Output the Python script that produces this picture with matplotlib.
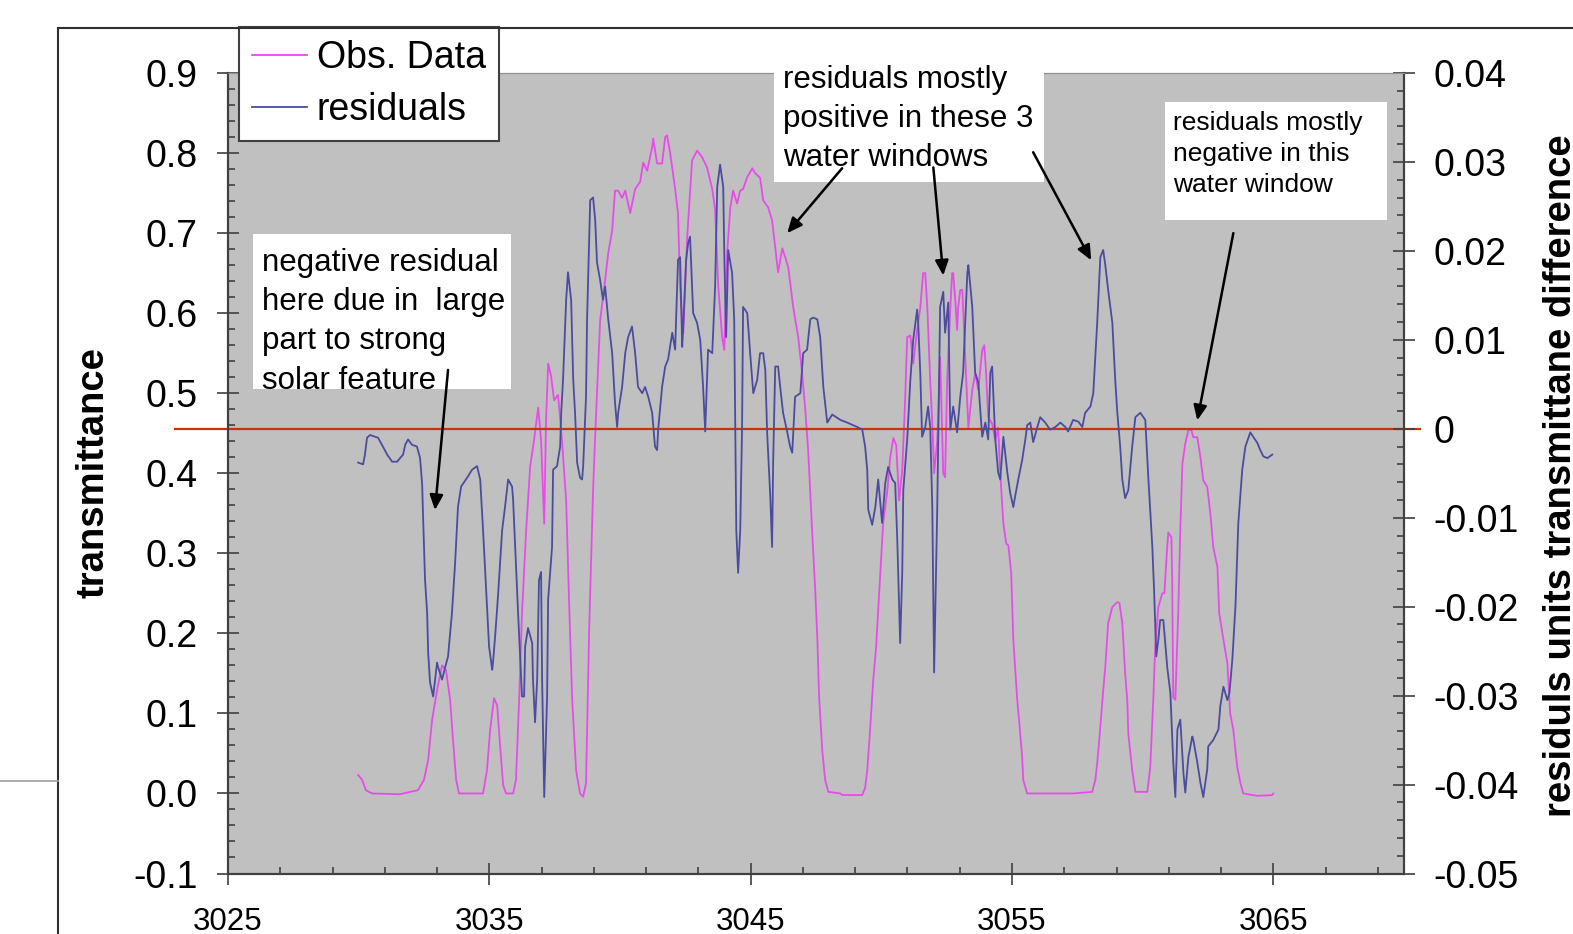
import matplotlib
matplotlib.use("Agg")
from matplotlib import pyplot as plt
from matplotlib.lines import Line2D
from matplotlib.patches import Rectangle
from matplotlib.ticker import FixedLocator, MultipleLocator, FuncFormatter
import numpy as np

plt.rcParams['font.family'] = ['Liberation Sans', 'DejaVu Sans']
plt.rcParams['axes.unicode_minus'] = False

# observed transmittance (left axis)
obs_x = [3029.98, 3030.13, 3030.28, 3030.51, 3031.58, 3031.97, 3032.27, 3032.50, 3032.66, 3032.81,
         3033.00, 3033.19, 3033.34, 3033.50, 3033.61, 3033.73, 3033.84, 3034.76, 3034.91, 3035.03,
         3035.18, 3035.30, 3035.41, 3035.53, 3035.64, 3035.91, 3036.02, 3036.14, 3036.25, 3036.41,
         3036.56, 3036.71, 3036.87, 3036.98, 3037.10, 3037.17, 3037.25, 3037.36, 3037.48, 3037.63,
         3037.78, 3037.94, 3038.05, 3038.17, 3038.32, 3038.47, 3038.59, 3038.70, 3038.74, 3038.82,
         3038.89, 3038.97, 3039.05, 3039.24, 3039.43, 3039.55, 3039.70, 3039.81, 3039.93, 3040.08,
         3040.20, 3040.39, 3040.58, 3040.77, 3040.89, 3041.04, 3041.23, 3041.27, 3041.42, 3041.61,
         3041.73, 3041.80, 3041.92, 3042.11, 3042.22, 3042.30, 3042.38, 3042.42, 3042.57, 3042.76,
         3042.95, 3043.14, 3043.33, 3043.53, 3043.64, 3043.76, 3043.91, 3043.99, 3044.10, 3044.22,
         3044.33, 3044.48, 3044.60, 3044.71, 3044.87, 3045.06, 3045.17, 3045.36, 3045.48, 3045.67,
         3045.82, 3045.94, 3046.05, 3046.21, 3046.32, 3046.44, 3046.63, 3046.82, 3046.97, 3047.09,
         3047.20, 3047.35, 3047.47, 3047.55, 3047.62, 3047.74, 3047.85, 3047.97, 3048.43, 3048.50,
         3049.27, 3049.38, 3049.46, 3049.57, 3049.69, 3049.80, 3049.88, 3049.96, 3050.07, 3050.23,
         3050.34, 3050.46, 3050.57, 3050.68, 3050.80, 3050.91, 3050.99, 3051.11, 3051.22, 3051.37,
         3051.49, 3051.60, 3051.68, 3051.76, 3051.87, 3051.95, 3052.02, 3052.14, 3052.25, 3052.37,
         3052.44, 3052.52, 3052.64, 3052.71, 3052.75, 3052.83, 3052.90, 3052.94, 3053.02, 3053.10,
         3053.21, 3053.33, 3053.48, 3053.59, 3053.71, 3053.86, 3053.94, 3054.01, 3054.09, 3054.24,
         3054.36, 3054.47, 3054.55, 3054.67, 3054.78, 3054.86, 3054.97, 3055.05, 3055.20, 3055.28,
         3055.39, 3055.43, 3055.58, 3056.08, 3056.85, 3057.34, 3058.07, 3058.19, 3058.26, 3058.34,
         3058.42, 3058.49, 3058.57, 3058.68, 3058.84, 3059.03, 3059.11, 3059.22, 3059.33, 3059.41,
         3059.45, 3059.60, 3059.72, 3060.18, 3060.29, 3060.41, 3060.48, 3060.60, 3060.75, 3060.83,
         3060.94, 3060.98, 3061.10, 3061.13, 3061.17, 3061.25, 3061.36, 3061.44, 3061.52, 3061.63,
         3061.75, 3061.86, 3061.94, 3062.09, 3062.21, 3062.32, 3062.47, 3062.59, 3062.70, 3062.86,
         3062.93, 3063.09, 3063.24, 3063.35, 3063.47, 3063.62, 3063.74, 3063.85, 3064.39, 3064.96,
         3065.00]
obs_y = [0.023, 0.017, 0.004, 0.000, -0.001, 0.002, 0.004, 0.017, 0.042, 0.092,
         0.129, 0.160, 0.154, 0.117, 0.067, 0.017, 0.000, 0.000, 0.029, 0.079,
         0.119, 0.110, 0.060, 0.010, 0.000, 0.000, 0.017, 0.117, 0.225, 0.329,
         0.408, 0.441, 0.482, 0.441, 0.337, 0.466, 0.537, 0.522, 0.491, 0.498,
         0.441, 0.366, 0.241, 0.117, 0.029, 0.000, -0.004, 0.013, 0.079, 0.204,
         0.288, 0.379, 0.447, 0.591, 0.641, 0.675, 0.703, 0.753, 0.753, 0.744,
         0.753, 0.725, 0.755, 0.764, 0.788, 0.778, 0.807, 0.818, 0.787, 0.787,
         0.820, 0.822, 0.800, 0.755, 0.725, 0.633, 0.591, 0.575, 0.695, 0.791,
         0.803, 0.795, 0.782, 0.755, 0.729, 0.633, 0.570, 0.554, 0.675, 0.732,
         0.753, 0.737, 0.753, 0.755, 0.770, 0.781, 0.775, 0.769, 0.741, 0.732,
         0.716, 0.682, 0.651, 0.681, 0.670, 0.657, 0.607, 0.570, 0.525, 0.479,
         0.429, 0.329, 0.254, 0.195, 0.120, 0.054, 0.017, 0.002, 0.000, -0.002,
         -0.002, 0.007, 0.029, 0.079, 0.142, 0.183, 0.229, 0.275, 0.338, 0.379,
         0.420, 0.444, 0.435, 0.366, 0.404, 0.491, 0.570, 0.572, 0.537, 0.579,
         0.607, 0.650, 0.650, 0.607, 0.516, 0.462, 0.400, 0.441, 0.545, 0.400,
         0.395, 0.516, 0.607, 0.650, 0.650, 0.616, 0.579, 0.607, 0.629, 0.629,
         0.545, 0.457, 0.504, 0.525, 0.504, 0.554, 0.560, 0.525, 0.470, 0.462,
         0.441, 0.457, 0.400, 0.337, 0.312, 0.310, 0.275, 0.192, 0.117, 0.088,
         0.045, 0.017, 0.000, 0.000, 0.000, 0.000, 0.002, 0.017, 0.038, 0.067,
         0.100, 0.129, 0.158, 0.213, 0.233, 0.239, 0.238, 0.213, 0.150, 0.117,
         0.075, 0.029, 0.002, 0.002, 0.033, 0.120, 0.183, 0.233, 0.250, 0.250,
         0.308, 0.326, 0.320, 0.266, 0.120, 0.117, 0.225, 0.329, 0.412, 0.437,
         0.454, 0.454, 0.445, 0.445, 0.420, 0.391, 0.383, 0.350, 0.308, 0.283,
         0.225, 0.192, 0.163, 0.100, 0.079, 0.033, 0.013, 0.000, -0.003, -0.002,
         0.000]

# residuals (right axis)
res_x = [3029.98, 3030.17, 3030.24, 3030.32, 3030.44, 3030.63, 3030.74, 3030.89, 3031.09, 3031.28,
         3031.47, 3031.70, 3031.78, 3031.89, 3032.04, 3032.23, 3032.35, 3032.43, 3032.46, 3032.54,
         3032.62, 3032.66, 3032.73, 3032.85, 3033.00, 3033.04, 3033.19, 3033.31, 3033.42, 3033.57,
         3033.69, 3033.80, 3033.92, 3034.15, 3034.34, 3034.53, 3034.65, 3034.76, 3034.91, 3034.99,
         3035.11, 3035.14, 3035.22, 3035.33, 3035.49, 3035.60, 3035.72, 3035.87, 3035.91, 3035.99,
         3036.10, 3036.25, 3036.33, 3036.37, 3036.48, 3036.64, 3036.67, 3036.75, 3036.83, 3036.90,
         3036.98, 3037.02, 3037.10, 3037.21, 3037.25, 3037.40, 3037.44, 3037.59, 3037.71, 3037.75,
         3037.82, 3037.94, 3038.01, 3038.13, 3038.21, 3038.28, 3038.36, 3038.47, 3038.55, 3038.59,
         3038.70, 3038.74, 3038.86, 3038.97, 3039.05, 3039.12, 3039.24, 3039.35, 3039.43, 3039.55,
         3039.70, 3039.81, 3039.89, 3039.93, 3040.08, 3040.20, 3040.31, 3040.46, 3040.58, 3040.69,
         3040.85, 3040.96, 3041.08, 3041.23, 3041.34, 3041.42, 3041.46, 3041.61, 3041.73, 3041.84,
         3042.00, 3042.11, 3042.22, 3042.30, 3042.38, 3042.42, 3042.53, 3042.61, 3042.68, 3042.80,
         3042.95, 3043.07, 3043.18, 3043.26, 3043.37, 3043.53, 3043.64, 3043.72, 3043.83, 3043.95,
         3043.99, 3044.06, 3044.14, 3044.29, 3044.37, 3044.41, 3044.45, 3044.52, 3044.60, 3044.67,
         3044.71, 3044.87, 3044.98, 3045.10, 3045.25, 3045.36, 3045.48, 3045.56, 3045.63, 3045.75,
         3045.82, 3045.86, 3045.94, 3046.05, 3046.13, 3046.24, 3046.40, 3046.51, 3046.59, 3046.63,
         3046.70, 3046.90, 3047.01, 3047.16, 3047.28, 3047.39, 3047.55, 3047.66, 3047.78, 3047.93,
         3048.12, 3048.43, 3048.69, 3049.08, 3049.27, 3049.38, 3049.46, 3049.50, 3049.65, 3049.77,
         3049.88, 3050.03, 3050.15, 3050.26, 3050.42, 3050.53, 3050.61, 3050.72, 3050.80, 3050.84,
         3050.99, 3051.11, 3051.22, 3051.37, 3051.41, 3051.49, 3051.56, 3051.68, 3051.79, 3051.87,
         3051.95, 3052.02, 3052.14, 3052.25, 3052.37, 3052.44, 3052.56, 3052.64, 3052.75, 3052.90,
         3053.02, 3053.13, 3053.29, 3053.33, 3053.48, 3053.59, 3053.71, 3053.86, 3053.98, 3054.09,
         3054.17, 3054.24, 3054.36, 3054.47, 3054.55, 3054.67, 3054.82, 3054.93, 3055.05, 3055.12,
         3055.24, 3055.39, 3055.51, 3055.58, 3055.70, 3055.81, 3055.97, 3056.08, 3056.27, 3056.46,
         3056.66, 3056.85, 3057.04, 3057.15, 3057.34, 3057.54, 3057.69, 3057.80, 3058.00, 3058.11,
         3058.26, 3058.38, 3058.49, 3058.57, 3058.68, 3058.84, 3058.95, 3059.03, 3059.14, 3059.22,
         3059.33, 3059.45, 3059.60, 3059.72, 3059.91, 3060.10, 3060.22, 3060.37, 3060.44, 3060.52,
         3060.60, 3060.67, 3060.79, 3060.94, 3061.06, 3061.17, 3061.25, 3061.33, 3061.44, 3061.56,
         3061.63, 3061.75, 3061.90, 3061.94, 3062.09, 3062.21, 3062.32, 3062.47, 3062.51, 3062.70,
         3062.90, 3062.97, 3063.09, 3063.24, 3063.32, 3063.43, 3063.55, 3063.66, 3063.81, 3063.93,
         3064.12, 3064.23, 3064.39, 3064.50, 3064.62, 3064.77, 3064.96]
res_y = [-0.0038, -0.0040, -0.0029, -0.0010, -0.0007, -0.0009, -0.0010, -0.0018, -0.0029, -0.0037,
         -0.0037, -0.0029, -0.0018, -0.0012, -0.0018, -0.0020, -0.0033, -0.0063, -0.0094, -0.0170,
         -0.0207, -0.0252, -0.0285, -0.0301, -0.0263, -0.0268, -0.0282, -0.0268, -0.0256, -0.0207,
         -0.0151, -0.0088, -0.0065, -0.0055, -0.0046, -0.0042, -0.0057, -0.0114, -0.0200, -0.0245,
         -0.0271, -0.0263, -0.0234, -0.0189, -0.0114, -0.0088, -0.0057, -0.0065, -0.0080, -0.0133,
         -0.0207, -0.0301, -0.0301, -0.0245, -0.0224, -0.0241, -0.0282, -0.0330, -0.0282, -0.0170,
         -0.0161, -0.0282, -0.0414, -0.0301, -0.0192, -0.0133, -0.0046, -0.0042, -0.0020, 0.0018,
         0.0055, 0.0145, 0.0176, 0.0145, 0.0055, 0.0018, -0.0038, -0.0055, -0.0057, -0.0042,
         0.0036, 0.0123, 0.0257, 0.0260, 0.0235, 0.0187, 0.0167, 0.0145, 0.0160, 0.0123,
         0.0085, 0.0029, 0.0002, 0.0018, 0.0047, 0.0085, 0.0103, 0.0115, 0.0085, 0.0047,
         0.0040, 0.0047, 0.0036, 0.0018, -0.0020, -0.0024, -0.0001, 0.0047, 0.0070, 0.0078,
         0.0108, 0.0089, 0.0190, 0.0193, 0.0092, 0.0115, 0.0190, 0.0209, 0.0216, 0.0130,
         0.0119, 0.0100, 0.0047, -0.0003, 0.0089, 0.0085, 0.0160, 0.0272, 0.0297, 0.0272,
         0.0198, 0.0103, 0.0201, 0.0175, 0.0123, -0.0001, -0.0114, -0.0162, -0.0114, -0.0001,
         0.0137, 0.0130, 0.0085, 0.0040, 0.0055, 0.0085, 0.0085, 0.0066, -0.0004, -0.0076,
         -0.0133, -0.0038, 0.0070, 0.0070, 0.0047, 0.0018, -0.0004, -0.0020, -0.0027, -0.0004,
         0.0036, 0.0040, 0.0085, 0.0089, 0.0123, 0.0125, 0.0123, 0.0103, 0.0047, 0.0007,
         0.0016, 0.0010, 0.0007, 0.0002, -0.0001, -0.0020, -0.0046, -0.0091, -0.0108, -0.0088,
         -0.0057, -0.0106, -0.0061, -0.0043, -0.0057, -0.0061, -0.0125, -0.0241, -0.0162, -0.0069,
         -0.0012, 0.0055, 0.0100, 0.0134, 0.0119, 0.0063, -0.0009, 0.0002, 0.0025, 0.0002,
         -0.0088, -0.0274, -0.0088, 0.0137, 0.0154, 0.0108, 0.0142, -0.0001, 0.0025, -0.0004,
         0.0036, 0.0063, 0.0175, 0.0184, 0.0137, 0.0063, 0.0052, -0.0009, 0.0007, -0.0012,
         0.0063, 0.0070, -0.0012, -0.0049, -0.0057, -0.0009, -0.0049, -0.0072, -0.0088, -0.0076,
         -0.0057, -0.0035, -0.0012, 0.0004, 0.0007, -0.0015, 0.0002, 0.0013, 0.0007, -0.0001,
         0.0002, 0.0007, 0.0002, -0.0003, 0.0010, 0.0008, 0.0002, 0.0018, 0.0025, 0.0040,
         0.0119, 0.0193, 0.0201, 0.0184, 0.0156, 0.0119, 0.0055, 0.0018, -0.0020, -0.0057,
         -0.0078, -0.0069, -0.0020, 0.0013, 0.0018, 0.0010, -0.0057, -0.0133, -0.0184, -0.0256,
         -0.0237, -0.0215, -0.0215, -0.0268, -0.0297, -0.0375, -0.0414, -0.0338, -0.0327, -0.0387,
         -0.0409, -0.0369, -0.0346, -0.0350, -0.0375, -0.0398, -0.0414, -0.0383, -0.0357, -0.0350,
         -0.0338, -0.0312, -0.0290, -0.0305, -0.0297, -0.0260, -0.0200, -0.0106, -0.0046, -0.0020,
         -0.0004, -0.0009, -0.0016, -0.0024, -0.0031, -0.0033, -0.0029]

x_ticks = [3025, 3035, 3045, 3055, 3065]

box1_text = "negative residual\nhere due in  large\npart to strong\nsolar feature"
box2_text = "residuals mostly\npositive in these 3\nwater windows"
box3_text = "residuals mostly\nnegative in this\nwater window"

fig = plt.figure(figsize=(15.73, 9.34), dpi=100)
ax = fig.add_axes([228/1573, 60.5/934, 1176/1573, 800.5/934])
ax2 = ax.twinx()

ax.set_facecolor('#C0C0C0')
ax.plot(obs_x, obs_y, color='#E84CE8', lw=1.3, label='Obs. Data')
l2, = ax2.plot(res_x, res_y, color='#4C4C9E', lw=1.3, label='residuals')
ax2.axhline(0, xmin=-0.045, xmax=1.0136, color='#CC3300', lw=1.6, clip_on=False, zorder=1)

ax.set_xlim(3025, 3070)
ax.set_ylim(-0.1, 0.9)
ax2.set_ylim(-0.05, 0.04)

ax.xaxis.set_major_locator(FixedLocator(x_ticks))
ax.xaxis.set_minor_locator(FixedLocator(np.arange(3025, 3071, 2)))
ax.yaxis.set_major_locator(MultipleLocator(0.1))
ax.yaxis.set_minor_locator(MultipleLocator(0.02))
ax.yaxis.set_major_formatter(FuncFormatter(lambda v, p: f"{v:.1f}"))
ax2.yaxis.set_major_locator(MultipleLocator(0.01))
ax2.yaxis.set_minor_locator(MultipleLocator(0.002))
ax2.yaxis.set_major_formatter(FuncFormatter(lambda v, p: "0" if abs(v) < 1e-9 else f"{v:.2f}"))

for a in (ax, ax2):
    a.tick_params(which='major', direction='inout', length=16, width=1.2, color='#404040')
    a.tick_params(which='minor', direction='in', length=5, width=1.2, color='#404040')
    for s in ('left', 'right', 'bottom'):
        a.spines[s].set_color('#404040')
        a.spines[s].set_linewidth(1.5)
    a.spines['top'].set_color('#909090')
ax.tick_params(axis='y', labelsize=27, pad=14)
ax.tick_params(axis='x', labelsize=22.5, pad=16)
ax2.tick_params(axis='y', labelsize=27, pad=13.5)

fig.text(93/1573, 1 - 473/934, "transmittance", rotation=90, ha='center', va='center',
         fontsize=27.5, fontweight='bold')
fig.text(1561/1573, 1 - 476/934, "residuls units transmittane difference", rotation=90,
         ha='center', va='center', fontsize=27.5, fontweight='bold')

# legend
leg = ax2.legend(handles=[ax.get_lines()[0], l2], loc='upper left',
                 bbox_to_anchor=(0.0094, 1.0575), borderaxespad=0, fontsize=27,
                 fancybox=False, framealpha=1, edgecolor='#404040', handlelength=1.45,
                 handletextpad=0.27, labelspacing=0.42, borderpad=0.35)
leg.get_frame().set_linewidth(1.5)

# annotation boxes
boxes = [((0.0213, 0.6052), 0.2193, 0.1936),
         ((0.4643, 0.8638), 0.2296, 0.16),
         ((0.7968, 0.8164), 0.1887, 0.1474)]
for (x0, y0), w, h in boxes:
    ax2.add_patch(Rectangle((x0, y0), w, h, transform=ax2.transAxes, facecolor='white',
                            edgecolor='none', clip_on=False, zorder=5))
ax2.text(0.0289, 0.7814, box1_text, transform=ax2.transAxes, fontsize=22.5, va='top',
         linespacing=1.4, zorder=6)
ax2.text(0.4719, 1.010, box2_text, transform=ax2.transAxes, fontsize=22.5, va='top',
         linespacing=1.4, zorder=6)
ax2.text(0.8036, 0.9526, box3_text, transform=ax2.transAxes, fontsize=19, va='top',
         linespacing=1.38, zorder=6)

arrows = [((3033.42, 0.529), (3032.92, 0.354)),
          ((3048.50, 0.781), (3046.40, 0.700)),
          ((3051.99, 0.782), (3052.37, 0.647)),
          ((3055.81, 0.801), (3058.03, 0.666)),
          ((3063.47, 0.700), (3062.09, 0.466))]
for tail, head in arrows:
    ax2.annotate("", xy=head, xytext=tail, xycoords=ax.transData, textcoords=ax.transData,
                 arrowprops=dict(arrowstyle='-|>,head_length=0.9,head_width=0.4', color='black',
                                 lw=1.8, shrinkA=0, shrinkB=0), zorder=7)

# outer chart frame
fig.add_artist(Line2D([58/1573, 1], [1 - 27.5/934, 1 - 27.5/934], color='#303030', lw=1.5))
fig.add_artist(Line2D([58/1573, 58/1573], [0, 1 - 27.5/934], color='#303030', lw=1.5))
fig.add_artist(Line2D([0, 58/1573], [1 - 781/934, 1 - 781/934], color='#A0A0A0', lw=1.2))

fig.savefig("out.png", dpi=100)
